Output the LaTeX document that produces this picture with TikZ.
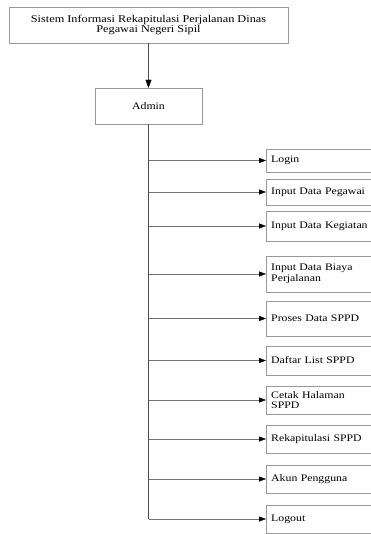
\documentclass[tikz,border=0pt]{standalone}
\usepackage{fontspec}
\setmainfont{Liberation Serif}[FakeStretch=1.18]
\usetikzlibrary{arrows.meta}

\begin{document}
\begin{tikzpicture}[x=1pt, y=-1pt,
		font=\fontsize{10}{10.5}\selectfont,
		mainbox/.style={draw=black!40, align=center, inner sep=0pt},
		menubox/.style={draw=black!40, anchor=west, text width=130pt, align=left,
			inner xsep=0.5pt, inner ysep=0pt, minimum width=140pt},
		menuarrow/.style={draw=black!55, -{Triangle[length=7pt, width=5pt, black]}},
		trunk/.style={draw=black!70}]
	\useasboundingbox (0, 0) rectangle (371, 534);

	\node [mainbox, minimum width=279pt, minimum height=36pt,
		font=\fontsize{10.4}{9.2}\selectfont] (sistem) at (148.5, 25)
	{Sistem Informasi Rekapitulasi Perjalanan Dinas\\Pegawai Negeri Sipil};
	\node [mainbox, minimum width=107pt, minimum height=36pt] (admin) at (148.5, 106) {Admin};

	\draw [trunk, -{Triangle[length=8pt, width=6pt, black]}] (sistem.south) -- (admin.north);

	\node [menubox, minimum height=23pt] (login) at (266, 160.5) {Login};
	\node [menubox, minimum height=26pt] (pegawai) at (266, 192) {Input Data Pegawai};
	\node [menubox, minimum height=30pt] (kegiatan) at (266, 226) {Input Data Kegiatan};
	\node [menubox, minimum height=36pt] (biaya) at (266, 274) {Input Data Biaya\\Perjalanan};
	\node [menubox, minimum height=35pt] (proses) at (266, 318.5) {Proses Data SPPD};
	\node [menubox, minimum height=29pt] (daftar) at (266, 360.5) {Daftar List SPPD};
	\node [menubox, minimum height=28pt] (cetak) at (266, 400) {Cetak Halaman\\SPPD};
	\node [menubox, minimum height=28pt] (rekap) at (266, 439) {Rekapitulasi SPPD};
	\node [menubox, minimum height=28pt] (akun) at (266, 479) {Akun Pengguna};
	\node [menubox, minimum height=28pt] (logout) at (266, 519) {Logout};

	% garis utama dari admin
	\draw [trunk] (admin.south) -- (admin.south |- logout.west);

	\draw [menuarrow] (admin.south |- login.west) -- (login.west);
	\draw [menuarrow] (admin.south |- pegawai.west) -- (pegawai.west);
	\draw [menuarrow] (admin.south |- kegiatan.west) -- (kegiatan.west);
	\draw [menuarrow] (admin.south |- biaya.west) -- (biaya.west);
	\draw [menuarrow] (admin.south |- proses.west) -- (proses.west);
	\draw [menuarrow] (admin.south |- daftar.west) -- (daftar.west);
	\draw [menuarrow] (admin.south |- cetak.west) -- (cetak.west);
	\draw [menuarrow] (admin.south |- rekap.west) -- (rekap.west);
	\draw [menuarrow] (admin.south |- akun.west) -- (akun.west);
	\draw [menuarrow] (admin.south |- logout.west) -- (logout.west);
\end{tikzpicture}
\end{document}
